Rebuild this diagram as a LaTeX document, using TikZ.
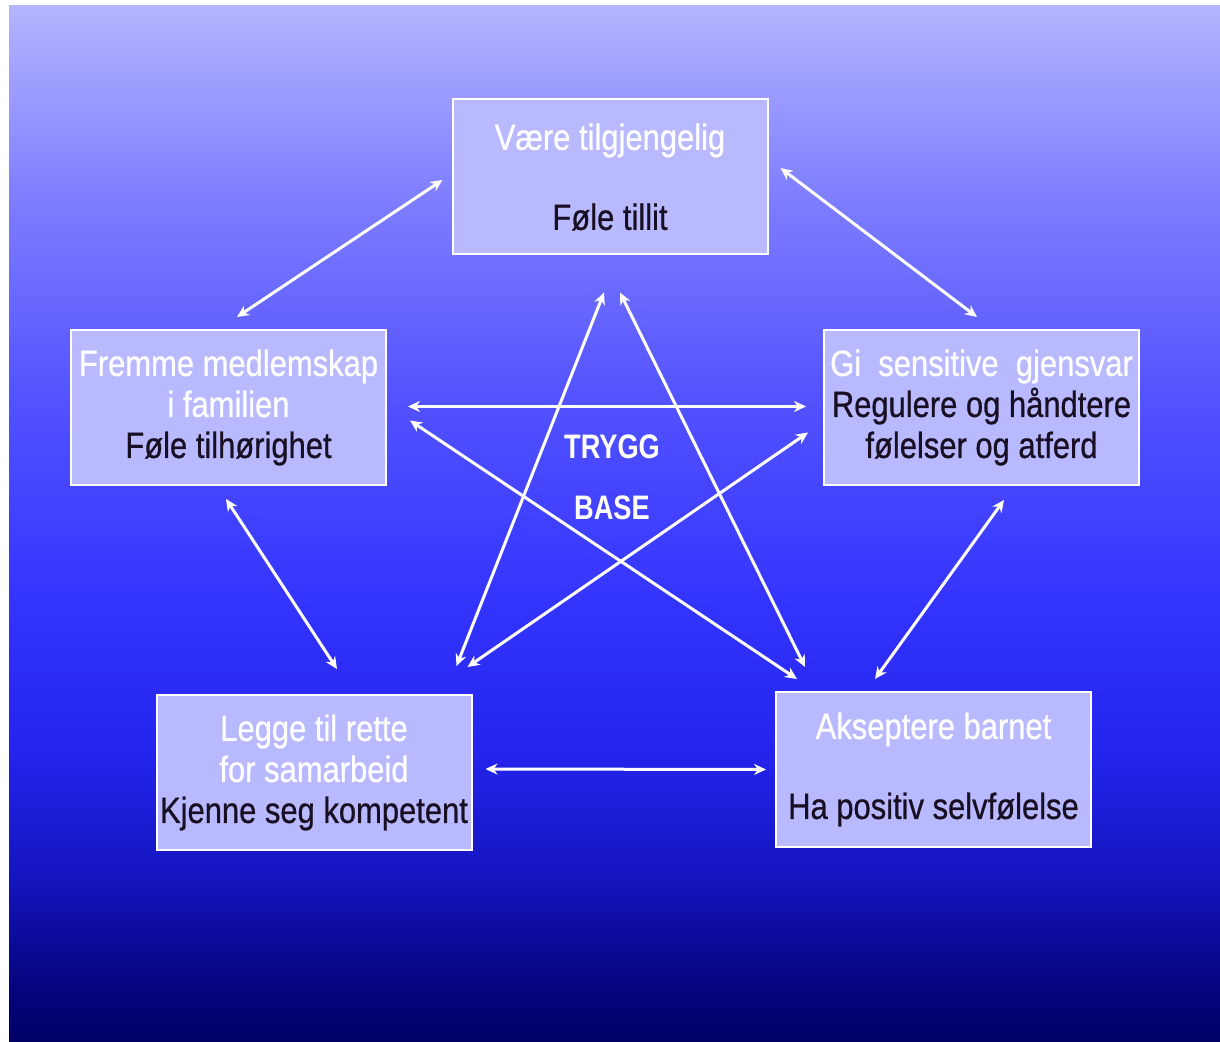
\documentclass[tikz,border=0pt]{standalone}
\usepackage{fontspec}
\setmainfont{Liberation Sans}[FakeStretch=0.85,FakeBold=0.7]
\newfontfamily\starfont{Liberation Sans}[FakeStretch=0.8]
\usetikzlibrary{arrows.meta}

% background gradient stops (top to bottom)
\definecolor{g0}{RGB}{180,180,255}
\definecolor{g1}{RGB}{125,125,255}
\definecolor{g2}{RGB}{82,82,255}
\definecolor{g3}{RGB}{52,52,255}
\definecolor{g4}{RGB}{36,36,238}
\definecolor{g5}{RGB}{20,20,190}
\definecolor{g6}{RGB}{8,8,140}
\definecolor{g7}{RGB}{0,0,100}
\definecolor{boxfill}{RGB}{185,185,255}
\definecolor{darktext}{RGB}{25,15,35}

\tikzset{
  card/.style={draw=white, line width=1pt, fill=boxfill, rectangle,
    minimum width=157.5pt, minimum height=77.5pt, inner sep=0pt,
    align=center, text=darktext,
    font=\fontsize{18.2}{20.5}\selectfont},
  link/.style={draw=white, line width=1.5pt,
    {Stealth[length=6pt,width=5.5pt]}-{Stealth[length=6pt,width=5.5pt]}},
  centre/.style={text=white, font=\starfont\bfseries\fontsize{17}{20}\selectfont}
}

\begin{document}
\begin{tikzpicture}[x=0.5pt,y=-0.5pt]
  \useasboundingbox (0,0) rectangle (1220,1042);
  \fill[white] (0,0) rectangle (1220,1042);

  % layered vertical gradient
  \shade[top color=g0,bottom color=g1] (9,6)   rectangle (1220,201);
  \shade[top color=g1,bottom color=g2] (9,200) rectangle (1220,401);
  \shade[top color=g2,bottom color=g3] (9,400) rectangle (1220,601);
  \shade[top color=g3,bottom color=g4] (9,600) rectangle (1220,751);
  \shade[top color=g4,bottom color=g5] (9,750) rectangle (1220,881);
  \shade[top color=g5,bottom color=g6] (9,880) rectangle (1220,961);
  \shade[top color=g6,bottom color=g7] (9,960) rectangle (1220,1042);

  % the five boxes
  \node[card] (T) at (610,177)
    {\textcolor{white}{Være tilgjengelig}\\[19.5pt]Føle tillit};
  \node[card] (L) at (228.5,407.5)
    {\textcolor{white}{Fremme medlemskap}\\\textcolor{white}{i familien}\\Føle tilhørighet};
  \node[card] (R) at (981.5,407.5)
    {\textcolor{white}{Gi\ \ sensitive\ \ gjensvar}\\Regulere og håndtere\\følelser og atferd};
  \node[card] (BL) at (314,772.5)
    {\textcolor{white}{Legge til rette}\\\textcolor{white}{for samarbeid}\\Kjenne seg kompetent};
  \node[card] (BR) at (933.5,769.5)
    {\textcolor{white}{Akseptere barnet}\\[19.5pt]Ha positiv selvfølelse};

  % centre label
  \node[centre] (trygg) at (612,447) {TRYGG};
  \node[centre] (base)  at (612,508) {BASE};

  % outer pentagon links
  \draw[link] ([shift={(-9,3)}]T.west) -- ([shift={(8.5,-12)}]L.north);
  \draw[link] ([shift={(12,-9)}]T.east) -- ([shift={(-4.5,-12)}]R.north);
  \draw[link] ([shift={(-2.5,13)}]L.south) -- ([shift={(23,-25)}]BL.north);
  \draw[link] ([shift={(22.5,14)}]R.south) -- ([shift={(-58.5,-12)}]BR.north);
  \draw[link] ([shift={(13,-3.5)}]BL.east) -- ([shift={(-9,0)}]BR.west);

  % inner star links
  \draw[link] ([shift={(21,-1)}]L.east) -- ([shift={(-17,-1)}]R.west);
  \draw[link] ([shift={(23,13)}]L.east) -- ([shift={(22,-12)}]BR.north west);
  \draw[link] ([shift={(-15,25)}]R.west) -- ([shift={(-5,-27)}]BL.north east);
  \draw[link] ([shift={(-6,37)}]T.south) -- ([shift={(-16,-28)}]BL.north east);
  \draw[link] ([shift={(10,37)}]T.south) -- ([shift={(30,-24)}]BR.north west);
\end{tikzpicture}
\end{document}
